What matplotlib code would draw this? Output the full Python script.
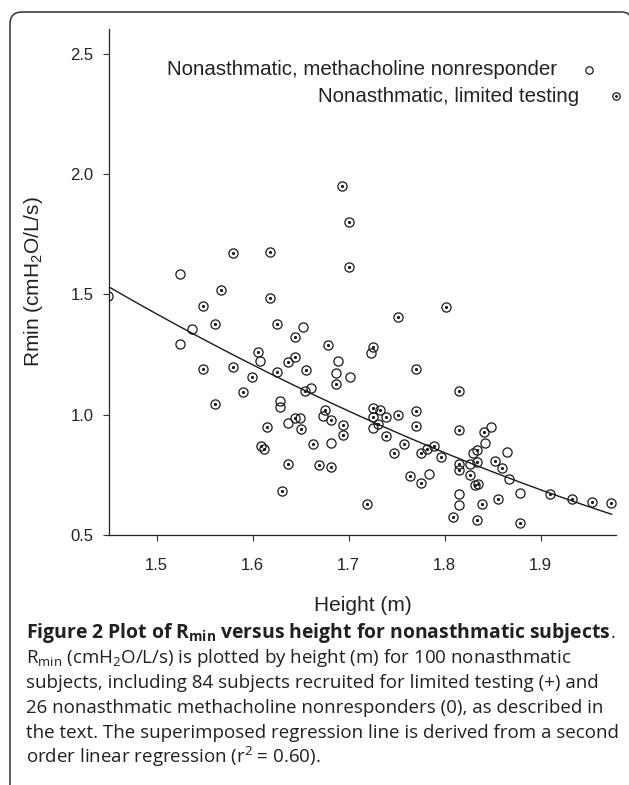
import numpy as np
import matplotlib
matplotlib.use("Agg")
import matplotlib.pyplot as plt
from matplotlib.patches import PathPatch
from matplotlib.path import Path
from matplotlib.transforms import IdentityTransform

plt.rcParams['font.family'] = ['Liberation Sans', 'DejaVu Sans']
plt.rcParams['mathtext.fontset'] = 'custom'
plt.rcParams['mathtext.rm'] = 'Open Sans'
plt.rcParams['mathtext.it'] = 'Open Sans:italic'
plt.rcParams['mathtext.bf'] = 'Open Sans:bold'
plt.rcParams['mathtext.sf'] = 'Liberation Sans'

# ---------------- data ----------------
limited_height = [1.450, 1.580, 1.567, 1.548, 1.561, 1.606, 1.548, 1.580, 1.599, 1.590,
                  1.561, 1.609, 1.612, 1.6935, 1.700, 1.700, 1.618, 1.618, 1.752, 1.625,
                  1.644, 1.679, 1.7255, 1.644, 1.637, 1.656, 1.770, 1.625, 1.687, 1.655,
                  1.675, 1.682, 1.644, 1.650, 1.615, 1.694, 1.694, 1.663, 1.637, 1.669,
                  1.682, 1.631, 1.719, 1.7255, 1.733, 1.7255, 1.739, 1.731, 1.752, 1.739,
                  1.7575, 1.747, 1.770, 1.770, 1.776, 1.7815, 1.764, 1.776, 1.802, 1.815,
                  1.815, 1.841, 1.8335, 1.8335, 1.815, 1.815, 1.853, 1.8596, 1.827, 1.832,
                  1.835, 1.839, 1.856, 1.8085, 1.834, 1.879, 1.910, 1.9325, 1.954, 1.973,
                  1.789, 1.796]
limited_rmin = [1.493, 1.671, 1.518, 1.453, 1.376, 1.259, 1.191, 1.197, 1.155, 1.093,
                1.043, 0.869, 0.859, 1.952, 1.802, 1.613, 1.676, 1.485, 1.406, 1.378,
                1.323, 1.290, 1.281, 1.240, 1.220, 1.186, 1.190, 1.179, 1.128, 1.097,
                1.021, 0.979, 0.985, 0.939, 0.950, 0.957, 0.917, 0.878, 0.796, 0.791,
                0.781, 0.683, 0.630, 1.027, 1.020, 0.992, 0.992, 0.960, 1.000, 0.910,
                0.878, 0.841, 1.017, 0.953, 0.842, 0.856, 0.745, 0.715, 1.446, 1.097,
                0.938, 0.929, 0.853, 0.802, 0.794, 0.770, 0.809, 0.780, 0.749, 0.709,
                0.712, 0.629, 0.648, 0.575, 0.561, 0.550, 0.669, 0.651, 0.636, 0.633,
                0.871, 0.824]

nonresp_height = [1.524, 1.537, 1.5245, 1.608, 1.6526, 1.7234, 1.689, 1.687, 1.7016, 1.661,
                  1.629, 1.629, 1.673, 1.6495, 1.637, 1.6815, 1.726, 1.784, 1.848, 1.8425,
                  1.865, 1.830, 1.827, 1.8675, 1.815, 1.815, 1.879]
nonresp_rmin = [1.583, 1.356, 1.293, 1.224, 1.364, 1.255, 1.223, 1.172, 1.155, 1.112,
                1.056, 1.033, 0.995, 0.985, 0.964, 0.881, 0.946, 0.754, 0.948, 0.884,
                0.846, 0.840, 0.794, 0.732, 0.672, 0.623, 0.673]

# second-order regression: y = a + b*(x - x0) + c*(x - x0)^2
fit_x0 = 1.45
fit_coef = [1.532, -2.306, 0.9564]
fit_range = [1.45, 1.974]

xticks = [1.5, 1.6, 1.7, 1.8, 1.9]
yticks = [0.5, 1.0, 1.5, 2.0, 2.5]

legend_labels = ["Nonasthmatic, methacholine nonresponder", "Nonasthmatic, limited testing"]

caption_title = r"Figure 2 Plot of R$_\mathbf{min}$ versus height for nonasthmatic subjects"
caption_lines = [
    r"R$_\mathrm{min}$ (cmH$_\mathrm{2}$O/L/s) is plotted by height (m) for 100 nonasthmatic",
    "subjects, including 84 subjects recruited for limited testing (+) and",
    "26 nonasthmatic methacholine nonresponders (0), as described in",
    "the text. The superimposed regression line is derived from a second",
    r"order linear regression (r$^\mathrm{2}$ = 0.60).",
]

# ---------------- figure ----------------
W, H = 629, 785
fig = plt.figure(figsize=(W / 100, H / 100), dpi=100)

# frame: left side and top with rounded corners (pixel coordinates, origin bottom-left)
fl, ft, fr, r1, r2 = 10.0, 12.0, 631.0, 12.0, 9.0
verts = [(fl, -10), (fl, H - ft - r1), (fl, H - ft), (fl + r1, H - ft),
         (fr - r2, H - ft), (fr, H - ft), (fr, H - ft - r2), (fr, -10)]
codes = [Path.MOVETO, Path.LINETO, Path.CURVE3, Path.CURVE3,
         Path.LINETO, Path.CURVE3, Path.CURVE3, Path.LINETO]
frame = PathPatch(Path(verts, codes), facecolor='none', edgecolor='#333333',
                  linewidth=1.1, transform=IdentityTransform())
fig.patches.append(frame)

ax_l, ax_r, ax_b, ax_t = 108.5, 616.4, 535.0, 29.0
ax = fig.add_axes([ax_l / W, (H - ax_b) / H, (ax_r - ax_l) / W, (ax_b - ax_t) / H])
ax.set_xlim(1.45, 1.979)
ax.set_ylim(0.5, 0.5 + (ax_b - ax_t) / 240.6)

ink = '#1a1a1a'
for s in ['top', 'right']:
    ax.spines[s].set_visible(False)
for s in ['left', 'bottom']:
    ax.spines[s].set_color('#222222')
    ax.spines[s].set_linewidth(0.9)

ax.set_xticks(xticks)
ax.set_xticklabels([f"{v:.1f}" for v in xticks])
ax.set_yticks(yticks)
ax.set_yticklabels([f"{v:.1f}" for v in yticks])
ax.tick_params(axis='both', direction='out', length=4.5, width=0.8, color='#333333',
               labelsize=12, labelcolor='#222222')
ax.tick_params(axis='x', pad=12)
ax.tick_params(axis='y', pad=6.3)

# regression curve
xs = np.linspace(fit_range[0], fit_range[1], 200)
u = xs - fit_x0
ys = fit_coef[0] + fit_coef[1] * u + fit_coef[2] * u ** 2
ax.plot(xs, ys, color=ink, lw=1.0, zorder=2)

# markers
ax.plot(nonresp_height, nonresp_rmin, 'o', ms=6.6, mfc='none', mec=ink, mew=0.9, zorder=3)
ax.plot(limited_height, limited_rmin, 'o', ms=6.6, mfc='none', mec=ink, mew=0.9, zorder=3)
ax.plot(limited_height, limited_rmin, 'o', ms=2.3, mfc=ink, mec=ink, mew=0, zorder=4)

# labels
ax.set_xlabel("Height (m)", fontsize=15, color='#222222')
ax.xaxis.set_label_coords(0.5, (ax_b - 596.0) / (ax_b - ax_t))
ax.set_ylabel(r"Rmin (cmH$_\mathsf{2}$O/L/s)", fontsize=15, color='#222222')
ax.yaxis.set_label_coords((45 - ax_l) / (ax_r - ax_l), 0.5)

# legend (manual, text followed by marker)
def axfrac(px, py):
    return (px - ax_l) / (ax_r - ax_l), (ax_b - py) / (ax_b - ax_t)

tx, ty = axfrac(557.3, 69.5)
ax.text(tx, ty, legend_labels[0], transform=ax.transAxes, ha='right', va='center',
        fontsize=14.75, color='#222222')
mx, my = axfrac(589.3, 69.5)
ax.plot([mx], [my], 'o', transform=ax.transAxes, ms=5.3, mfc='none', mec=ink, mew=0.9,
        clip_on=False)
tx, ty = axfrac(578.7, 97.0)
ax.text(tx, ty, legend_labels[1], transform=ax.transAxes, ha='right', va='center',
        fontsize=14.75, color='#222222')
mx, my = axfrac(616.0, 96.0)
ax.plot([mx], [my], 'o', transform=ax.transAxes, ms=5.3, mfc='none', mec=ink, mew=0.9,
        clip_on=False)
ax.plot([mx], [my], 'o', transform=ax.transAxes, ms=2.1, mfc=ink, mec=ink, mew=0,
        clip_on=False)

# caption
renderer = fig.canvas.get_renderer()
cap_family = 'Open Sans'
cap_color = '#231f20'
x0 = 25.7
probe = fig.text(0, 0, caption_lines[3], family=cap_family, fontsize=12)
w = probe.get_window_extent(renderer).width
probe.remove()
cap_size = 12 * (614.0 - x0) / w

probe = fig.text(0, 0, caption_title, family=cap_family, fontsize=cap_size, fontweight='bold')
wb = probe.get_window_extent(renderer).width
probe.remove()
title_size = cap_size * (612.5 - x0) / wb

baselines = [638, 663, 688, 713, 738, 763]
t = fig.text(x0 / W, 1 - baselines[0] / H, caption_title, family=cap_family,
             fontsize=title_size, fontweight='bold', ha='left', va='baseline', color=cap_color)
x_end = t.get_window_extent(renderer).x1
fig.text(x_end / W, 1 - baselines[0] / H, ".", family=cap_family, fontsize=cap_size,
         ha='left', va='baseline', color=cap_color)
for line, base in zip(caption_lines, baselines[1:]):
    fig.text(x0 / W, 1 - base / H, line, family=cap_family, fontsize=cap_size,
             ha='left', va='baseline', color=cap_color)

fig.savefig("out.png", dpi=100)
